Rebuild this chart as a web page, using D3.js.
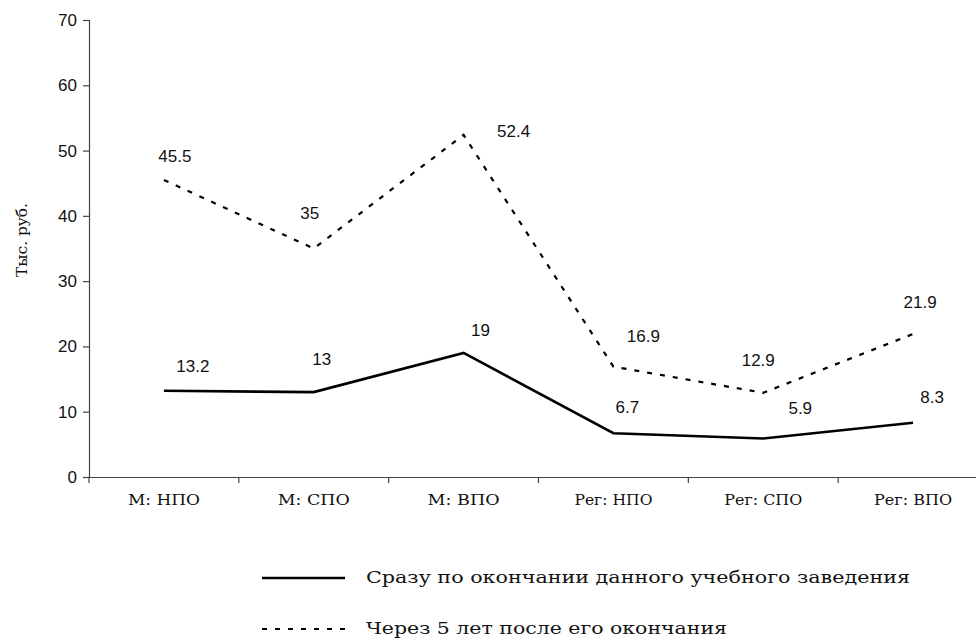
<!DOCTYPE html>
<html><head><meta charset="utf-8">
<script src="https://cdn.jsdelivr.net/npm/d3@7"></script>
<style>
body{margin:0;background:#fff}
.sans{font-family:"Liberation Sans", Arial, Helvetica, sans-serif}
.serif{font-family:"DejaVu Serif", "Liberation Serif", serif}
</style>
</head><body>
<svg id="c" width="976" height="638"></svg>
<script>
const categories = ["М: НПО","М: СПО","М: ВПО","Рег: НПО","Рег: СПО","Рег: ВПО"];
const seriesNames = ["Сразу по окончании данного учебного заведения","Через 5 лет после его окончания"];
const immediate = [13.2, 13, 19, 6.7, 5.9, 8.3];
const after5 = [45.5, 35, 52.4, 16.9, 12.9, 21.9];
const yTicks = [0,10,20,30,40,50,60,70];
// label offsets (layout only)
const offImmediate = [[29,-25],[8,-33],[17,-23],[14,-26],[37,-30],[19,-26]];
const offAfter5 = [[11,-24],[-4,-35],[50,-4],[30,-31],[-5,-33],[7,-32]];

const svg = d3.select("#c");
const x = d3.scaleBand().domain(categories).range([89, 988]).padding(0);
const y = d3.scaleLinear().domain([0,70]).range([477, 20]);

const axisColor = "#444";
const gx = svg.append("g").attr("transform","translate(0,477)")
  .call(d3.axisBottom(x).tickSize(0).tickPadding(0));
gx.attr("font-family",null).attr("font-size",null);
gx.select(".domain").attr("stroke",axisColor).attr("stroke-width",1.2);
gx.selectAll("text").attr("class","serif")
  .attr("font-size",15).attr("fill","#111").attr("dy","1.85em")
  .attr("textLength",d=>d.startsWith("Рег")?78:72).attr("lengthAdjust","spacingAndGlyphs");
const bounds = categories.map(c=>x(c)).concat([x.range()[1]]);
svg.append("g").selectAll("line").data(bounds).join("line")
  .attr("x1",d=>d).attr("x2",d=>d).attr("y1",477).attr("y2",483)
  .attr("stroke",axisColor).attr("stroke-width",1.2);

const gy = svg.append("g").attr("transform","translate(89,0)")
  .call(d3.axisLeft(y).tickValues(yTicks).tickSize(6).tickPadding(6));
gy.attr("font-family",null).attr("font-size",null);
gy.select(".domain").attr("stroke",axisColor).attr("stroke-width",1.2);
gy.selectAll(".tick line").attr("stroke",axisColor).attr("stroke-width",1.2);
gy.selectAll("text").attr("class","sans").attr("font-size",17).attr("fill","#111");

svg.append("text").attr("class","serif").attr("transform","translate(27,240) rotate(-90)")
  .attr("text-anchor","middle").attr("font-size",14).attr("fill","#111")
  .attr("textLength",74).attr("lengthAdjust","spacingAndGlyphs").text("Тыс. руб.");

const cx = c => x(c) + x.bandwidth()/2;
const line = d3.line().x((d,i)=>cx(categories[i])).y(d=>y(d));

svg.append("path").datum(immediate).attr("d",line).attr("fill","none")
  .attr("stroke","#000").attr("stroke-width",2.6);
svg.append("path").datum(after5).attr("d",line).attr("fill","none")
  .attr("stroke","#000").attr("stroke-width",2.2).attr("stroke-dasharray","5,8");

function labels(data, offs){
  svg.append("g").selectAll("text").data(data).join("text")
    .attr("class","sans")
    .attr("x",(d,i)=>cx(categories[i])+offs[i][0])
    .attr("y",(d,i)=>y(d)+offs[i][1])
    .attr("text-anchor","middle").attr("dy","0.35em")
    .attr("font-size",17).attr("fill","#111").text(d=>d);
}
labels(immediate, offImmediate);
labels(after5, offAfter5);

const leg = svg.append("g");
const legY = [578, 629];
const legW = [544, 361];
const dashes = [null, "5,8"];
seriesNames.forEach((n,i)=>{
  leg.append("line").attr("x1",262).attr("x2",345).attr("y1",legY[i]).attr("y2",legY[i])
    .attr("stroke","#000").attr("stroke-width",i?2.2:2.6).attr("stroke-dasharray",dashes[i]);
  leg.append("text").attr("class","serif").attr("x",366).attr("y",legY[i]+5)
    .attr("font-size",17).attr("fill","#111")
    .attr("textLength",legW[i]).attr("lengthAdjust","spacingAndGlyphs").text(n);
});
</script>
</body></html>
